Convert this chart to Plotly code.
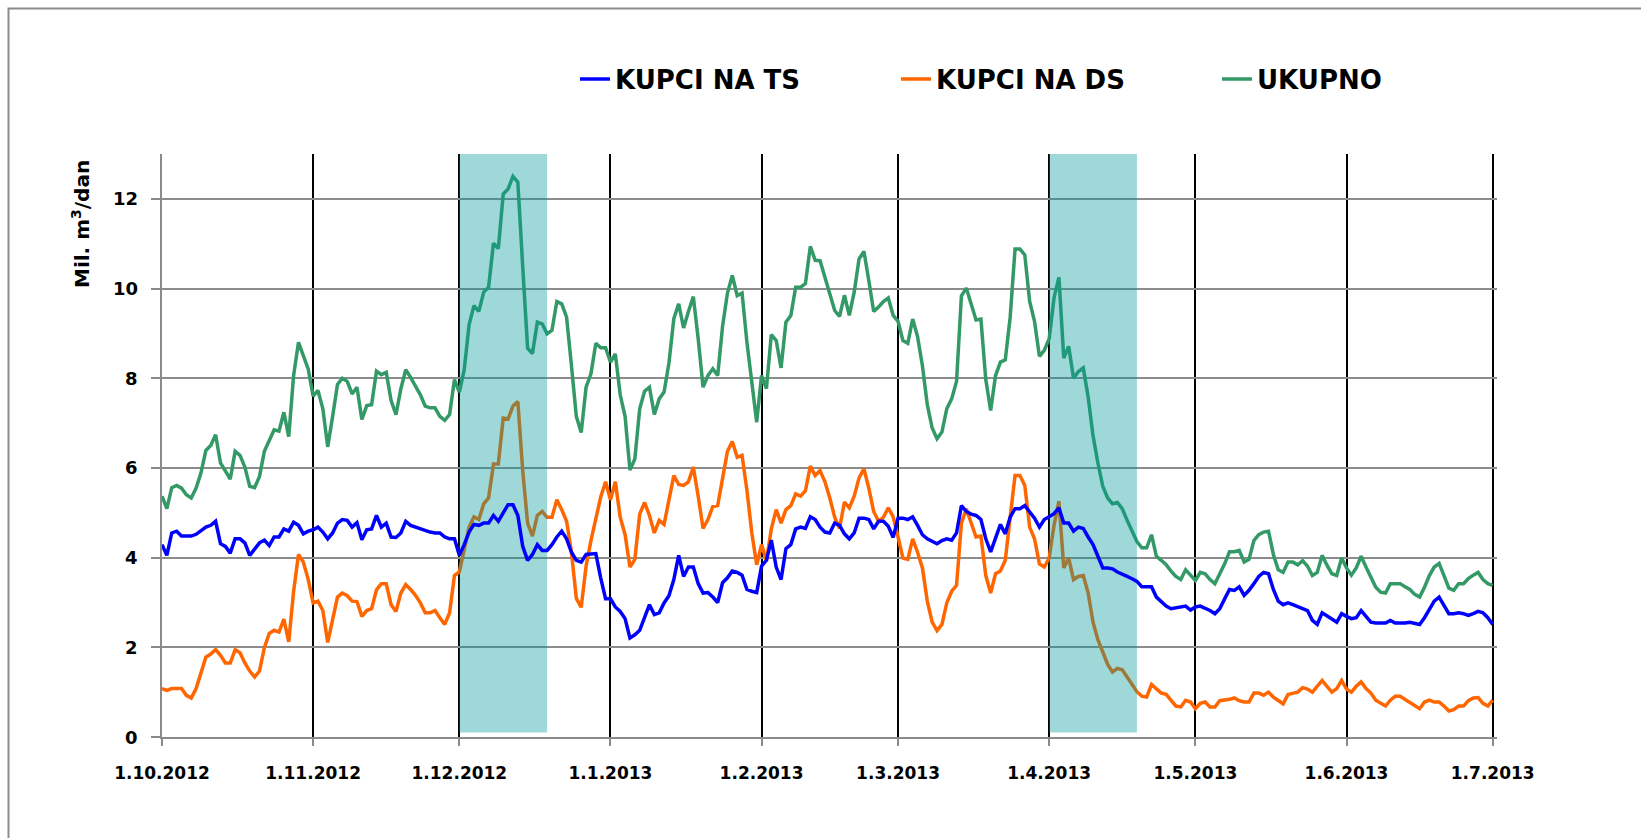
import pandas as pd
import plotly.graph_objects as go

# ---------------- data (daily, 1.10.2012 .. 1.7.2013) ----------------
start_date = "2012-10-01"
end_date = "2013-07-01"

kupci_ts = [
    4.29, 4.05, 4.55, 4.59, 4.48, 4.48, 4.48, 4.52, 4.59, 4.68,
    4.72, 4.81, 4.31, 4.25, 4.10, 4.42, 4.42, 4.33, 4.05, 4.18,
    4.33, 4.39, 4.27, 4.46, 4.46, 4.64, 4.59, 4.79, 4.72, 4.53,
    4.59, 4.62, 4.68, 4.57, 4.42, 4.55, 4.77, 4.85, 4.83, 4.68,
    4.78, 4.40, 4.62, 4.64, 4.94, 4.68, 4.77, 4.46, 4.45, 4.55,
    4.81, 4.72, 4.68, 4.64, 4.61, 4.57, 4.55, 4.55, 4.46, 4.42,
    4.42, 4.05, 4.29, 4.57, 4.74, 4.72, 4.77, 4.77, 4.94, 4.81,
    5.00, 5.18, 5.18, 4.94, 4.25, 3.94, 4.07, 4.29, 4.16, 4.16,
    4.29, 4.46, 4.59, 4.42, 4.12, 3.94, 3.90, 4.07, 4.08, 4.09,
    3.55, 3.08, 3.08, 2.90, 2.80, 2.64, 2.21, 2.28, 2.38, 2.69,
    2.95, 2.73, 2.77, 2.99, 3.15, 3.51, 4.05, 3.58, 3.79, 3.79,
    3.42, 3.21, 3.22, 3.12, 3.00, 3.44, 3.55, 3.70, 3.67, 3.61,
    3.29, 3.25, 3.22, 3.81, 3.94, 4.39, 3.79, 3.51, 4.20, 4.29,
    4.64, 4.68, 4.65, 4.91, 4.85, 4.68, 4.57, 4.55, 4.77, 4.72,
    4.53, 4.42, 4.55, 4.88, 4.88, 4.85, 4.64, 4.81, 4.81, 4.70,
    4.45, 4.88, 4.88, 4.85, 4.91, 4.72, 4.51, 4.42, 4.36, 4.31,
    4.38, 4.42, 4.39, 4.55, 5.16, 5.03, 4.97, 4.94, 4.85, 4.42,
    4.13, 4.46, 4.74, 4.53, 4.90, 5.09, 5.09, 5.16, 5.03, 4.88,
    4.68, 4.85, 4.91, 4.98, 5.11, 4.77, 4.77, 4.59, 4.68, 4.65,
    4.46, 4.29, 4.03, 3.77, 3.77, 3.75, 3.68, 3.64, 3.58, 3.53,
    3.47, 3.35, 3.35, 3.35, 3.12, 3.03, 2.92, 2.86, 2.88, 2.90,
    2.92, 2.83, 2.90, 2.92, 2.88, 2.82, 2.75, 2.86, 3.08, 3.29,
    3.27, 3.35, 3.16, 3.27, 3.42, 3.58, 3.67, 3.64, 3.29, 3.03,
    2.95, 2.99, 2.95, 2.90, 2.86, 2.82, 2.60, 2.51, 2.77, 2.71,
    2.63, 2.56, 2.75, 2.69, 2.64, 2.66, 2.82, 2.69, 2.56, 2.54,
    2.54, 2.54, 2.60, 2.54, 2.54, 2.54, 2.56, 2.53, 2.51, 2.66,
    2.86, 3.03, 3.12, 2.95, 2.75, 2.75, 2.77, 2.75, 2.71, 2.75,
    2.80, 2.77, 2.66, 2.51,
]

kupci_ds = [
    1.08, 1.04, 1.08, 1.08, 1.08, 0.93, 0.87, 1.08, 1.43, 1.78,
    1.85, 1.95, 1.82, 1.65, 1.65, 1.95, 1.88, 1.65, 1.47, 1.34,
    1.47, 1.99, 2.31, 2.38, 2.34, 2.63, 2.12, 3.25, 4.07, 3.90,
    3.51, 2.99, 3.03, 2.82, 2.11, 2.63, 3.12, 3.21, 3.15, 3.03,
    3.02, 2.69, 2.82, 2.86, 3.28, 3.42, 3.42, 2.95, 2.80, 3.21,
    3.40, 3.29, 3.16, 2.99, 2.77, 2.77, 2.82, 2.66, 2.51, 2.77,
    3.60, 3.68, 4.16, 4.68, 4.91, 4.85, 5.20, 5.33, 6.09, 6.09,
    7.11, 7.09, 7.38, 7.48, 5.94, 4.77, 4.48, 4.94, 5.03, 4.90,
    4.90, 5.29, 5.07, 4.81, 4.12, 3.09, 2.89, 3.81, 4.38, 4.90,
    5.35, 5.69, 5.29, 5.69, 4.90, 4.51, 3.79, 3.96, 4.97, 5.23,
    4.94, 4.55, 4.83, 4.74, 5.29, 5.83, 5.63, 5.61, 5.69, 6.02,
    5.37, 4.65, 4.85, 5.14, 5.16, 5.72, 6.37, 6.59, 6.24, 6.28,
    5.50, 4.55, 3.84, 4.29, 3.93, 4.64, 5.07, 4.77, 5.07, 5.16,
    5.42, 5.37, 5.49, 6.04, 5.83, 5.94, 5.69, 5.33, 4.90, 4.65,
    5.24, 5.11, 5.37, 5.78, 5.98, 5.55, 5.03, 4.81, 4.90, 5.11,
    4.91, 4.46, 3.99, 3.96, 4.42, 4.12, 3.77, 3.03, 2.56, 2.37,
    2.51, 2.99, 3.25, 3.38, 4.77, 5.09, 4.77, 4.46, 4.48, 3.60,
    3.21, 3.64, 3.70, 3.94, 4.90, 5.83, 5.83, 5.61, 4.68, 4.42,
    3.86, 3.79, 3.99, 4.72, 5.26, 3.77, 3.99, 3.51, 3.58, 3.60,
    3.21, 2.56, 2.17, 1.88, 1.62, 1.45, 1.53, 1.50, 1.34, 1.17,
    1.01, 0.91, 0.89, 1.17, 1.08, 0.98, 0.95, 0.82, 0.69, 0.67,
    0.82, 0.78, 0.63, 0.75, 0.78, 0.67, 0.67, 0.81, 0.82, 0.84,
    0.87, 0.81, 0.78, 0.78, 0.98, 0.98, 0.93, 1.00, 0.89, 0.81,
    0.74, 0.95, 0.98, 1.00, 1.10, 1.07, 1.00, 1.13, 1.26, 1.13,
    1.00, 1.08, 1.26, 1.07, 1.00, 1.13, 1.23, 1.08, 0.98, 0.82,
    0.75, 0.69, 0.82, 0.91, 0.91, 0.84, 0.76, 0.69, 0.63, 0.78,
    0.82, 0.78, 0.78, 0.69, 0.58, 0.61, 0.69, 0.69, 0.81, 0.87,
    0.88, 0.75, 0.69, 0.82,
]

ukupno = [
    5.37, 5.09, 5.56, 5.61, 5.55, 5.40, 5.33, 5.55, 5.89, 6.39,
    6.50, 6.74, 6.11, 5.94, 5.75, 6.37, 6.28, 6.02, 5.59, 5.56,
    5.81, 6.37, 6.63, 6.85, 6.82, 7.24, 6.70, 8.06, 8.80, 8.51,
    8.20, 7.60, 7.73, 7.32, 6.47, 7.15, 7.86, 8.00, 7.93, 7.65,
    7.80, 7.08, 7.39, 7.41, 8.16, 8.08, 8.13, 7.50, 7.19, 7.76,
    8.19, 8.02, 7.84, 7.63, 7.38, 7.34, 7.34, 7.15, 7.06, 7.19,
    7.97, 7.69, 8.19, 9.19, 9.62, 9.49, 9.92, 10.03, 11.01, 10.89,
    12.11, 12.22, 12.50, 12.37, 10.49, 8.67, 8.55, 9.25, 9.21, 8.99,
    9.07, 9.71, 9.66, 9.36, 8.28, 7.15, 6.79, 7.80, 8.10, 8.78,
    8.68, 8.68, 8.36, 8.54, 7.63, 7.15, 5.95, 6.20, 7.32, 7.71,
    7.80, 7.19, 7.54, 7.69, 8.34, 9.33, 9.66, 9.12, 9.49, 9.82,
    8.88, 7.80, 8.06, 8.21, 8.06, 9.16, 9.90, 10.29, 9.84, 9.90,
    8.80, 7.86, 7.02, 8.06, 7.77, 8.97, 8.84, 8.23, 9.25, 9.40,
    10.03, 10.03, 10.11, 10.94, 10.63, 10.62, 10.23, 9.84, 9.51, 9.38,
    9.85, 9.40, 9.92, 10.66, 10.83, 10.18, 9.49, 9.59, 9.71, 9.79,
    9.40, 9.27, 8.84, 8.78, 9.32, 8.93, 8.28, 7.41, 6.89, 6.65,
    6.80, 7.32, 7.54, 7.93, 9.84, 10.01, 9.62, 9.30, 9.32, 7.97,
    7.28, 8.06, 8.36, 8.41, 9.36, 10.88, 10.88, 10.75, 9.71, 9.27,
    8.49, 8.62, 8.88, 9.79, 10.25, 8.45, 8.71, 8.00, 8.15, 8.23,
    7.58, 6.72, 6.11, 5.59, 5.33, 5.20, 5.23, 5.09, 4.83, 4.59,
    4.36, 4.22, 4.22, 4.51, 4.03, 3.94, 3.84, 3.70, 3.58, 3.51,
    3.73, 3.61, 3.49, 3.67, 3.64, 3.51, 3.42, 3.64, 3.86, 4.13,
    4.13, 4.16, 3.90, 3.96, 4.38, 4.51, 4.57, 4.59, 4.07, 3.73,
    3.67, 3.90, 3.90, 3.84, 3.93, 3.81, 3.60, 3.67, 4.05, 3.83,
    3.64, 3.60, 3.99, 3.77, 3.61, 3.77, 4.03, 3.79, 3.55, 3.34,
    3.23, 3.21, 3.42, 3.42, 3.42, 3.35, 3.29, 3.18, 3.12, 3.34,
    3.60, 3.79, 3.87, 3.60, 3.32, 3.27, 3.42, 3.42, 3.53, 3.61,
    3.67, 3.51, 3.42, 3.38,
]

series_names = ["KUPCI NA TS", "KUPCI NA DS", "UKUPNO"]
month_ticks = ["2012-10-01", "2012-11-01", "2012-12-01", "2013-01-01", "2013-02-01",
               "2013-03-01", "2013-04-01", "2013-05-01", "2013-06-01", "2013-07-01"]
tick_labels = ["1.10.2012", "1.11.2012", "1.12.2012", "1.1.2013", "1.2.2013",
               "1.3.2013", "1.4.2013", "1.5.2013", "1.6.2013", "1.7.2013"]
y_ticks = [0, 2, 4, 6, 8, 10, 12]
y_tick_labels = ["0", "2", "4", "6", "8", "10", "12"]
band_periods = [("2012-12-01", "2012-12-19"), ("2013-04-01", "2013-04-19")]
band_low, band_high = 0.1, 13.0

# ---------------- figure ----------------
dates = pd.date_range(start_date, end_date, freq="D")
FONT = "DejaVu Sans, Verdana, sans-serif"
GRAY = "#8a8a8a"

W, H = 1641, 838
ML, MR, MT, MB = 162, 144, 154, 101

fig = go.Figure()

fig.add_trace(go.Scatter(x=dates, y=ukupno, mode="lines", name=series_names[2],
                         line=dict(color="#339966", width=3.5), legendrank=3))
fig.add_trace(go.Scatter(x=dates, y=kupci_ds, mode="lines", name=series_names[1],
                         line=dict(color="#FF6600", width=3.5), legendrank=2))

bx, by = [], []
for a, b in band_periods:
    bx += [a, a, b, b, a, None]
    by += [band_low, band_high, band_high, band_low, band_low, None]
fig.add_trace(go.Scatter(x=bx, y=by, mode="lines", fill="toself",
                         fillcolor="rgba(0,153,153,0.38)", line=dict(width=0),
                         showlegend=False, hoverinfo="skip"))

fig.add_trace(go.Scatter(x=dates, y=kupci_ts, mode="lines", name=series_names[0],
                         line=dict(color="#0000FF", width=3.5), legendrank=1))

pw = W - ML - MR
ph = H - MT - MB

def px_x(v):
    return (v - ML) / pw

def px_y(v):
    return (H - MB - v) / ph

annotations = [dict(
    text="Mil. m<sup>3</sup>/dan", textangle=-90,
    xref="paper", yref="paper", x=px_x(81), y=px_y(224),
    xanchor="center", yanchor="middle", showarrow=False,
    font=dict(size=20, family=FONT, color="black", weight="bold"),
)]
for v, lab in zip(y_ticks, y_tick_labels):
    annotations.append(dict(
        text=lab, xref="paper", yref="y", x=px_x(140), y=v,
        xanchor="right", yanchor="middle", showarrow=False,
        font=dict(size=18, family=FONT, color="black", weight="bold"),
    ))

fig.update_layout(
    width=W, height=H,
    margin=dict(l=ML, r=MR, t=MT, b=MB, pad=0),
    paper_bgcolor="white", plot_bgcolor="white",
    font=dict(family=FONT, color="black"),
    showlegend=True,
    legend=dict(orientation="h", xref="container", yref="container",
                x=575 / W, y=1 - 79 / H, xanchor="left", yanchor="middle",
                font=dict(size=26, family=FONT, color="black", weight="bold"),
                entrywidth=276, entrywidthmode="pixels",
                bgcolor="rgba(0,0,0,0)", borderwidth=0, traceorder="normal"),
    xaxis=dict(
        type="date",
        range=["2012-10-01", "2013-07-01 21:00"],
        tickvals=month_ticks, ticktext=tick_labels,
        tickfont=dict(size=17, family=FONT, color="black", weight="bold"),
        ticks="outside", ticklen=7, tickcolor=GRAY, tickwidth=1.5,
        ticklabelstandoff=13,
        showline=True, linecolor=GRAY, linewidth=2,
        showgrid=True, gridcolor="black", gridwidth=1.5,
        zeroline=False, fixedrange=True,
    ),
    yaxis=dict(
        range=[0, 13],
        tickvals=y_ticks, showticklabels=False,
        ticks="outside", ticklen=9, tickcolor=GRAY, tickwidth=1.5,
        showline=True, linecolor=GRAY, linewidth=2,
        showgrid=True, gridcolor="#8c8c8c", gridwidth=1.5,
        zeroline=False, fixedrange=True,
    ),
    annotations=annotations,
    shapes=[dict(
        type="rect", xref="paper", yref="paper",
        x0=px_x(8.5), x1=px_x(W + 60), y0=px_y(H + 60), y1=px_y(8.5),
        line=dict(color="#8c8c8c", width=2), fillcolor="rgba(0,0,0,0)", layer="below",
    )],
)

fig.write_html("out.html", config={"displayModeBar": False},
               post_script="document.body.style.margin='0';document.body.style.overflow='hidden';")
